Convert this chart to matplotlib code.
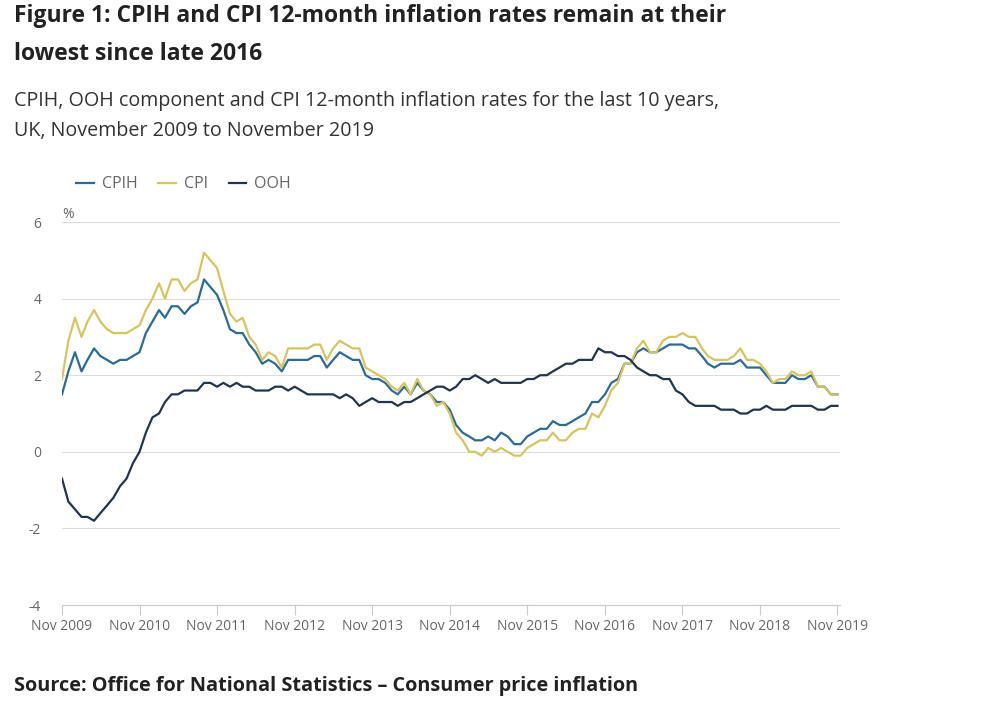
import matplotlib
matplotlib.use("Agg")
import matplotlib.pyplot as plt
import pandas as pd

plt.rcParams['font.family'] = ['Open Sans', 'DejaVu Sans']

# monthly 12-month rates, Nov 2009 .. Nov 2019
dates = pd.date_range("2009-11-01", "2019-11-01", freq="MS")

cpih = [1.5, 2.1,
        2.6, 2.1, 2.4, 2.7, 2.5, 2.4, 2.3, 2.4, 2.4, 2.5, 2.6, 3.1,
        3.4, 3.7, 3.5, 3.8, 3.8, 3.6, 3.8, 3.9, 4.5, 4.3, 4.1, 3.7,
        3.2, 3.1, 3.1, 2.8, 2.6, 2.3, 2.4, 2.3, 2.1, 2.4, 2.4, 2.4,
        2.4, 2.5, 2.5, 2.2, 2.4, 2.6, 2.5, 2.4, 2.4, 2.0, 1.9, 1.9,
        1.8, 1.6, 1.5, 1.7, 1.5, 1.8, 1.6, 1.5, 1.3, 1.3, 1.1, 0.7,
        0.5, 0.4, 0.3, 0.3, 0.4, 0.3, 0.5, 0.4, 0.2, 0.2, 0.4, 0.5,
        0.6, 0.6, 0.8, 0.7, 0.7, 0.8, 0.9, 1.0, 1.3, 1.3, 1.5, 1.8,
        1.9, 2.3, 2.3, 2.6, 2.7, 2.6, 2.6, 2.7, 2.8, 2.8, 2.8, 2.7,
        2.7, 2.5, 2.3, 2.2, 2.3, 2.3, 2.3, 2.4, 2.2, 2.2, 2.2, 2.0,
        1.8, 1.8, 1.8, 2.0, 1.9, 1.9, 2.0, 1.7, 1.7, 1.5, 1.5]

cpi = [1.9, 2.9,
       3.5, 3.0, 3.4, 3.7, 3.4, 3.2, 3.1, 3.1, 3.1, 3.2, 3.3, 3.7,
       4.0, 4.4, 4.0, 4.5, 4.5, 4.2, 4.4, 4.5, 5.2, 5.0, 4.8, 4.2,
       3.6, 3.4, 3.5, 3.0, 2.8, 2.4, 2.6, 2.5, 2.2, 2.7, 2.7, 2.7,
       2.7, 2.8, 2.8, 2.4, 2.7, 2.9, 2.8, 2.7, 2.7, 2.2, 2.1, 2.0,
       1.9, 1.7, 1.6, 1.8, 1.5, 1.9, 1.6, 1.5, 1.2, 1.3, 1.0, 0.5,
       0.3, 0.0, 0.0, -0.1, 0.1, 0.0, 0.1, 0.0, -0.1, -0.1, 0.1, 0.2,
       0.3, 0.3, 0.5, 0.3, 0.3, 0.5, 0.6, 0.6, 1.0, 0.9, 1.2, 1.6,
       1.8, 2.3, 2.3, 2.7, 2.9, 2.6, 2.6, 2.9, 3.0, 3.0, 3.1, 3.0,
       3.0, 2.7, 2.5, 2.4, 2.4, 2.4, 2.5, 2.7, 2.4, 2.4, 2.3, 2.1,
       1.8, 1.9, 1.9, 2.1, 2.0, 2.0, 2.1, 1.7, 1.7, 1.5, 1.5]

ooh = [-0.7, -1.3,
       -1.5, -1.7, -1.7, -1.8, -1.6, -1.4, -1.2, -0.9, -0.7, -0.3, 0.0, 0.5,
       0.9, 1.0, 1.3, 1.5, 1.5, 1.6, 1.6, 1.6, 1.8, 1.8, 1.7, 1.8,
       1.7, 1.8, 1.7, 1.7, 1.6, 1.6, 1.6, 1.7, 1.7, 1.6, 1.7, 1.6,
       1.5, 1.5, 1.5, 1.5, 1.5, 1.4, 1.5, 1.4, 1.2, 1.3, 1.4, 1.3,
       1.3, 1.3, 1.2, 1.3, 1.3, 1.4, 1.5, 1.6, 1.7, 1.7, 1.6, 1.7,
       1.9, 1.9, 2.0, 1.9, 1.8, 1.9, 1.8, 1.8, 1.8, 1.8, 1.9, 1.9,
       2.0, 2.0, 2.1, 2.2, 2.3, 2.3, 2.4, 2.4, 2.4, 2.7, 2.6, 2.6,
       2.5, 2.5, 2.4, 2.2, 2.1, 2.0, 2.0, 1.9, 1.9, 1.6, 1.5, 1.3,
       1.2, 1.2, 1.2, 1.2, 1.1, 1.1, 1.1, 1.0, 1.0, 1.1, 1.1, 1.2,
       1.1, 1.1, 1.1, 1.2, 1.2, 1.2, 1.2, 1.1, 1.1, 1.2, 1.2]

series = [("CPIH", cpih, "#2a6b98"), ("CPI", cpi, "#d8c45e"), ("OOH", ooh, "#1f3552")]

tick_dates = pd.date_range("2009-11-01", "2019-11-01", freq="12MS")
tick_labels = [d.strftime("Nov %Y") for d in tick_dates]
yticks = [-4, -2, 0, 2, 4, 6]

fig = plt.figure(figsize=(10, 7.03), dpi=100)
ax = fig.add_axes([0.062, 0.1394, 0.778, 0.5448])

for name, vals, col in series:
    ax.plot(dates, vals, color=col, lw=1.6, label=name)

ax.set_ylim(-4, 6)
ax.set_xlim(dates[0], dates[-1] + pd.Timedelta(days=12))
ax.set_yticks(yticks)
ax.set_yticklabels([str(v) for v in yticks])
ax.set_xticks(tick_dates)
ax.set_xticklabels(tick_labels)
ax.grid(axis="y", color="#dcdcdc", lw=0.8)
ax.set_axisbelow(True)
for s in ["top", "right", "left"]:
    ax.spines[s].set_visible(False)
ax.spines["bottom"].set_color("#c8c8d0")
ax.tick_params(axis="x", colors="#c8c8d0", labelcolor="#666666", labelsize=10, length=7, pad=3)
ax.tick_params(axis="y", length=0, labelcolor="#666666", labelsize=10, pad=15)
ax.text(0.0, 1.0, "%", transform=ax.transAxes, fontsize=10, color="#666666", va="bottom", ha="left")

ax.legend(loc="lower left", bbox_to_anchor=(0.0, 1.04), ncol=3, frameon=False,
          handlelength=1.1, handletextpad=0.5, columnspacing=1.3, fontsize=11.5,
          labelcolor="#666666")

fig.text(0.014, 0.977, "Figure 1: CPIH and CPI 12-month inflation rates remain at their",
         fontsize=16.5, fontweight="bold", color="#222222", va="center")
fig.text(0.014, 0.923, "lowest since late 2016",
         fontsize=16.5, fontweight="bold", color="#222222", va="center")
fig.text(0.014, 0.857, "CPIH, OOH component and CPI 12-month inflation rates for the last 10 years,",
         fontsize=14.2, color="#333333", va="center")
fig.text(0.014, 0.814, "UK, November 2009 to November 2019",
         fontsize=14.2, color="#333333", va="center")
fig.text(0.014, 0.024, "Source: Office for National Statistics \u2013 Consumer price inflation",
         fontsize=14.3, fontweight="bold", color="#222222", va="center")

fig.savefig("out.png", dpi=100)
